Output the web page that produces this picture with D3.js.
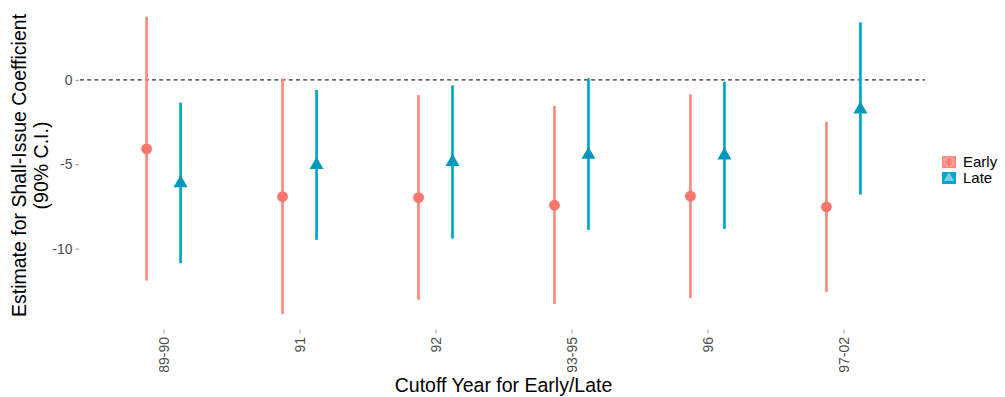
<!DOCTYPE html>
<html>
<head>
<meta charset="utf-8">
<script src="https://cdn.jsdelivr.net/npm/d3@7"></script>
<style>
  body { margin: 0; background: #fff; }
  svg { display: block; font-family: "Liberation Sans", Arial, sans-serif; }
</style>
</head>
<body>
<svg id="chart" width="1005" height="397"></svg>
<script>
const categories = ["89-90", "91", "92", "93-95", "96", "97-02"];
const seriesNames = ["Early", "Late"];
const earlyEst   = [-4.09, -6.92, -6.98, -7.43, -6.89, -7.53];
const earlyLower = [-11.89, -13.88, -13.03, -13.27, -12.93, -12.56];
const earlyUpper = [3.73, 0.09, -0.90, -1.55, -0.86, -2.50];
const lateEst    = [-6.12, -5.05, -4.86, -4.44, -4.48, -1.76];
const lateLower  = [-10.86, -9.48, -9.40, -8.89, -8.83, -6.80];
const lateUpper  = [-1.35, -0.60, -0.33, 0.09, -0.11, 3.40];
const yTicks = [0, -5, -10];

const colors = { Early: { line: "#F98B81", point: "#F8766D" }, Late: { line: "#00A7CA", point: "#0098BA" } };

const rows = [];
categories.forEach((c, i) => {
  rows.push({ cat: c, series: "Early", est: earlyEst[i], lo: earlyLower[i], hi: earlyUpper[i] });
  rows.push({ cat: c, series: "Late", est: lateEst[i], lo: lateLower[i], hi: lateUpper[i] });
});

const svg = d3.select("#chart");
const panel = { left: 82, right: 925, top: 2, bottom: 329 };

const x = d3.scalePoint().domain(categories).range([panel.left, panel.right]).padding(0.6);
const step = x.step();
const dodge = d3.scalePoint().domain(seriesNames).range([-0.125 * step, 0.125 * step]);

const yMin = d3.min(rows, d => d.lo), yMax = d3.max(rows, d => d.hi);
const pad = (yMax - yMin) * 0.05;
const y = d3.scaleLinear().domain([yMin - pad, yMax + pad]).range([panel.bottom, panel.top]);

// zero reference line
svg.append("line")
  .attr("x1", 80).attr("x2", panel.right)
  .attr("y1", y(0)).attr("y2", y(0))
  .attr("stroke", "#333").attr("stroke-width", 1.2).attr("stroke-dasharray", "4,3.2");

// y axis
const yAxis = d3.axisLeft(y).tickValues(yTicks).tickSize(3.5).tickPadding(3).tickFormat(d3.format("d"));
const gy = svg.append("g").attr("transform", `translate(79,0)`).call(yAxis);
gy.select(".domain").remove();
gy.selectAll(".tick line").attr("stroke", "#999");
gy.selectAll(".tick text").attr("fill", "#4D4D4D").attr("font-size", 14)
  .text(d => d < 0 ? "-" + Math.abs(d) : d);

// x axis
const xAxis = d3.axisBottom(x).tickSize(3.5).tickPadding(3);
const gx = svg.append("g").attr("transform", `translate(0,${panel.bottom + 1})`).call(xAxis);
gx.select(".domain").remove();
gx.selectAll(".tick line").attr("stroke", "#999");
gx.selectAll(".tick text").attr("fill", "#4D4D4D").attr("font-size", 14)
  .attr("transform", "rotate(-90)")
  .attr("text-anchor", "end").attr("dy", "0.35em")
  .attr("x", -7).attr("y", 0);

// error bars
const g = svg.append("g");
g.selectAll("line.bar").data(rows).join("line")
  .attr("class", "bar")
  .attr("x1", d => x(d.cat) + dodge(d.series)).attr("x2", d => x(d.cat) + dodge(d.series))
  .attr("y1", d => y(d.lo)).attr("y2", d => y(d.hi))
  .attr("stroke", d => colors[d.series].line).attr("stroke-width", 2.7);

g.selectAll("circle.pt").data(rows.filter(d => d.series === "Early")).join("circle")
  .attr("class", "pt")
  .attr("cx", d => x(d.cat) + dodge(d.series)).attr("cy", d => y(d.est))
  .attr("r", 5.4).attr("fill", colors.Early.point);

const tri = d3.symbol().type(d3.symbolTriangle).size(85);
g.selectAll("path.pt").data(rows.filter(d => d.series === "Late")).join("path")
  .attr("class", "pt")
  .attr("d", tri)
  .attr("transform", d => `translate(${x(d.cat) + dodge(d.series)},${y(d.est)})`)
  .attr("fill", colors.Late.point);

// axis titles
svg.append("text")
  .attr("x", (panel.left + panel.right) / 2).attr("y", 392)
  .attr("text-anchor", "middle").attr("font-size", 19.5).attr("fill", "#000")
  .text("Cutoff Year for Early/Late");

const yt = svg.append("text")
  .attr("transform", `translate(0,${(panel.top + panel.bottom) / 2}) rotate(-90)`)
  .attr("text-anchor", "middle").attr("font-size", 19.5).attr("fill", "#000");
yt.append("tspan").attr("x", 0).attr("y", 26).text("Estimate for Shall-Issue Coefficient");
yt.append("tspan").attr("x", 0).attr("y", 48).text("(90% C.I.)");

// legend
const leg = svg.append("g").attr("transform", "translate(942,156)");
seriesNames.forEach((s, i) => {
  const row = leg.append("g").attr("transform", `translate(0,${i * 16})`);
  row.append("rect").attr("x", 0).attr("y", 0).attr("width", 14).attr("height", 12)
    .attr("fill", colors[s].line);
  row.append("line").attr("x1", 7).attr("x2", 7).attr("y1", 0).attr("y2", 12)
    .attr("stroke", colors[s].point).attr("stroke-width", 2);
  if (s === "Early") {
    row.append("circle").attr("cx", 7).attr("cy", 6).attr("r", 4.5)
      .attr("fill", "none").attr("stroke", "#FBB0A9").attr("stroke-width", 1.2);
  } else {
    row.append("path").attr("d", d3.symbol().type(d3.symbolTriangle).size(45))
      .attr("transform", "translate(7,6)").attr("fill", "#fff").attr("opacity", 0.5);
  }
  row.append("text").attr("x", 21).attr("y", 6).attr("dy", "0.36em")
    .attr("font-size", 15).attr("fill", "#000").text(s);
});
</script>
</body>
</html>
